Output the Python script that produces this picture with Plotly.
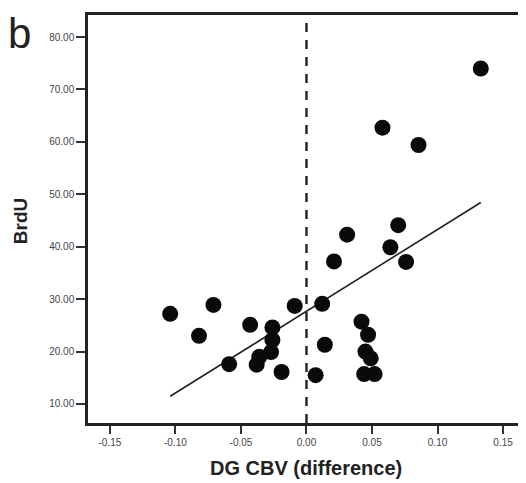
import numpy as np
import plotly.graph_objects as go

# DG CBV (difference) vs BrdU
dg_cbv = [0.133, 0.058, 0.0855, 0.070, 0.031, 0.064, 0.076, 0.021, 0.012, -0.009,
          -0.071, -0.104, -0.082, -0.043, -0.026, -0.026, -0.027, -0.036, -0.038, -0.059,
          -0.019, 0.007, 0.014, 0.042, 0.047, 0.045, 0.049, 0.044, 0.052]
brdu = [74.0, 62.7, 59.4, 44.1, 42.3, 39.9, 37.1, 37.2, 29.1, 28.7,
        28.9, 27.2, 23.0, 25.1, 24.6, 22.2, 19.9, 19.0, 17.5, 17.6,
        16.1, 15.5, 21.3, 25.7, 23.2, 20.0, 18.7, 15.7, 15.7]

x_ticks = [-0.15, -0.10, -0.05, 0.00, 0.05, 0.10, 0.15]
x_tick_labels = ["-0.15", "-0.10", "-0.05", "0.00", "0.05", "0.10", "0.15"]
y_ticks = [10, 20, 30, 40, 50, 60, 70, 80]
y_tick_labels = ["10.00", "20.00", "30.00", "40.00", "50.00", "60.00", "70.00", "80.00"]

slope, intercept = np.polyfit(dg_cbv, brdu, 1)
fit_x = np.array([min(dg_cbv), max(dg_cbv)])
fit_y = slope * fit_x + intercept

FONT = "Liberation Sans, Arial, sans-serif"

fig = go.Figure()
fig.add_trace(go.Scatter(x=fit_x, y=fit_y, mode="lines",
                         line=dict(color="#222", width=1.6), hoverinfo="skip"))
fig.add_trace(go.Scatter(x=dg_cbv, y=brdu, mode="markers",
                         marker=dict(size=16, color="#0a0a0a")))

fig.add_shape(type="line", xref="x", yref="paper", x0=0, x1=0, y0=0, y1=1,
              line=dict(color="#222", width=2.4, dash="9px,8px"))

# page body has an 8px margin, so the figure is sized/placed to compensate
fig.update_layout(
    width=518, height=475,
    margin=dict(l=80, r=0, t=7, b=60, autoexpand=False),
    paper_bgcolor="white", plot_bgcolor="white",
    showlegend=False,
    font=dict(family=FONT, color="#333"),
    xaxis=dict(range=[-0.1667, 0.1675], tickvals=x_ticks, ticktext=x_tick_labels,
               automargin=False,
               showgrid=False, zeroline=False, showline=True, linecolor="#222",
               linewidth=2.5, mirror=True, ticks="outside", ticklen=8, tickwidth=2,
               tickcolor="#333", tickfont=dict(size=10, color="#444")),
    yaxis=dict(range=[6.37, 84.2], tickvals=y_ticks, ticktext=y_tick_labels,
               automargin=False,
               showgrid=False, zeroline=False, showline=True, linecolor="#222",
               linewidth=2.5, ticks="outside", ticklen=9, tickwidth=2,
               tickcolor="#333", tickfont=dict(size=10, color="#444")),
)
fig.add_annotation(text="<b>DG CBV (difference)</b>", xref="x", yref="paper",
                   x=0.0, y=-0.110, xanchor="center", yanchor="middle", showarrow=False,
                   font=dict(size=20, color="#222", family=FONT))
fig.add_annotation(text="<b>BrdU</b>", xref="paper", yref="paper", textangle=-90,
                   x=-0.155, y=0.495, xanchor="center", yanchor="middle", showarrow=False,
                   font=dict(size=19, color="#222", family=FONT))
fig.add_annotation(text="b", xref="paper", yref="paper", x=-0.185, y=1.0147,
                   xanchor="left", yanchor="top", showarrow=False, borderpad=0,
                   font=dict(size=42, color="#222", family=FONT))

fig.write_html("out.html")
